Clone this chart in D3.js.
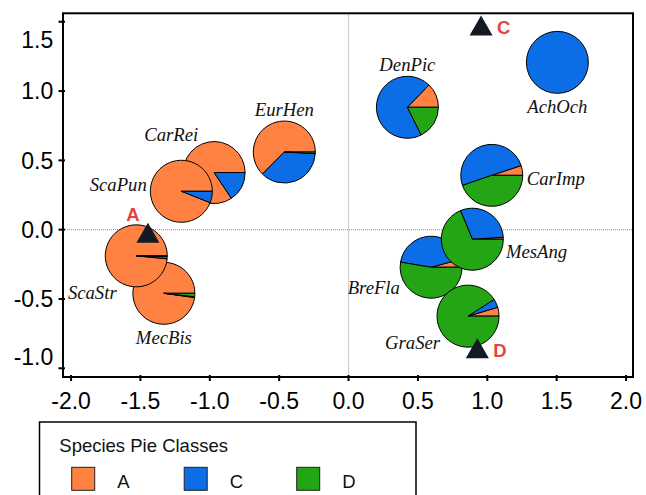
<!DOCTYPE html>
<html>
<head>
<meta charset="utf-8">
<script src="https://cdnjs.cloudflare.com/ajax/libs/d3/7.8.5/d3.min.js"></script>
<style>
	body { margin: 0; background: #fff; }
	svg { display: block; }
</style>
</head>
<body>
<div id="chart"></div>
<script>
// species scores and class proportions (A, C, D) per species
var speciesNames = ["AchOch", "BreFla", "CarImp", "CarRei", "DenPic", "EurHen", "GraSer", "MecBis", "MesAng", "ScaPun", "ScaStr"];
var speciesX = [1.505, 0.595, 1.032, -0.969, 0.424, -0.463, 0.861, -1.331, 0.892, -1.205, -1.530];
var speciesY = [1.207, -0.271, 0.392, 0.412, 0.883, 0.560, -0.624, -0.459, -0.069, 0.277, -0.189];
var shareA = [0, 0.042, 0.051, 0.844, 0.1275, 0.625, 0.046, 0.978, 0.010, 0.940, 0.985];
var shareC = [1, 0.432, 0.502, 0.156, 0.696, 0.367, 0.045, 0.004, 0.302, 0.060, 0.012];
var shareD = [0, 0.526, 0.447, 0, 0.1765, 0.008, 0.909, 0.018, 0.688, 0, 0.003];
// direction (degrees, clockwise from east) where each species name sits
var labelAngle = [90, 153, 3, -117, -90, -90, 143, 90, 16, 189, 124];

// class centroids
var classNames = ["A", "C", "D"];
var classX = [-1.446, 0.955, 0.928];
var classY = [-0.046, 1.449, -0.880];
var classLabelSide = ["nw", "e", "e"];
var classColors = ["#ff8243", "#0b6ee6", "#24a516"];

var xTicks = [-2.0, -1.5, -1.0, -0.5, 0.0, 0.5, 1.0, 1.5, 2.0];
var yTicks = [-1.0, -0.5, 0.0, 0.5, 1.0, 1.5];

var conf = {
	width: 646, height: 495,
	left: 63, top: 13.3, right: 633, bottom: 377,
	radius: 31
};

var $svg = d3.select("#chart").append("svg")
	.attr("width", conf.width)
	.attr("height", conf.height);

$svg.append("rect")
	.attr("width", conf.width)
	.attr("height", conf.height)
	.attr("fill", "#fff");

var x = d3.scaleLinear().domain([-2.058, 2.050]).range([conf.left, conf.right]);
var y = d3.scaleLinear().domain([-1.063, 1.561]).range([conf.bottom, conf.top]);

// dotted zero lines
$svg.append("line")
	.attr("x1", x(0)).attr("x2", x(0))
	.attr("y1", conf.top).attr("y2", conf.bottom)
	.attr("stroke", "#777")
	.attr("stroke-width", 0.8)
	.attr("stroke-dasharray", "1,1");
$svg.append("line")
	.attr("x1", conf.left).attr("x2", conf.right)
	.attr("y1", y(0)).attr("y2", y(0))
	.attr("stroke", "#777")
	.attr("stroke-width", 0.8)
	.attr("stroke-dasharray", "1,1");

var arc = d3.arc()
	.innerRadius(0)
	.outerRadius(conf.radius);

// counter-clockwise from 3 o'clock
var pie = d3.pie()
	.sort(null)
	.value(function(d) { return d.value; })
	.startAngle(Math.PI / 2)
	.endAngle(Math.PI / 2 - 2 * Math.PI);

var speciesData = speciesNames.map(function(name, i) {
	return {
		name: name,
		x: speciesX[i],
		y: speciesY[i],
		angle: labelAngle[i],
		shares: [
			{ cls: 0, value: shareA[i] },
			{ cls: 1, value: shareC[i] },
			{ cls: 2, value: shareD[i] }
		]
	};
});

var $pies = $svg.selectAll("g.pie").data(speciesData)
	.enter()
	.append("g")
	.attr("class", "pie")
	.attr("transform", function(d) { return "translate(" + x(d.x) + "," + y(d.y) + ")"; });

$pies.selectAll("path")
	.data(function(d) { return pie(d.shares).filter(function(s) { return s.data.value > 0; }); })
	.enter()
	.append("path")
	.attr("d", arc)
	.attr("fill", function(s) { return classColors[s.data.cls]; })
	.attr("stroke", "#000")
	.attr("stroke-width", 1)
	.attr("stroke-linejoin", "round");

var labelSize = 18.7;
$svg.selectAll("text.species").data(speciesData)
	.enter()
	.append("text")
	.attr("class", "species")
	.attr("x", function(d) {
		return x(d.x) + (conf.radius + 4) * Math.cos(d.angle * Math.PI / 180);
	})
	.attr("y", function(d) {
		var s = Math.sin(d.angle * Math.PI / 180);
		return y(d.y) + (conf.radius + 4) * s + labelSize * (0.375 + 0.455 * s);
	})
	.attr("text-anchor", function(d) {
		var c = Math.cos(d.angle * Math.PI / 180);
		return c > 0.35 ? "start" : (c < -0.35 ? "end" : "middle");
	})
	.attr("font-family", "'Liberation Serif', 'Times New Roman', serif")
	.attr("font-style", "italic")
	.attr("font-size", labelSize)
	.attr("fill", "#111")
	.text(function(d) { return d.name; });

// class centroids
var classData = classNames.map(function(name, i) {
	return { name: name, x: classX[i], y: classY[i], side: classLabelSide[i] };
});

$svg.selectAll("path.centroid").data(classData)
	.enter()
	.append("path")
	.attr("class", "centroid")
	.attr("d", d3.symbol().type(d3.symbolTriangle).size(230))
	.attr("transform", function(d) { return "translate(" + x(d.x) + "," + y(d.y) + ")"; })
	.attr("fill", "#141a24");

$svg.selectAll("text.centroid").data(classData)
	.enter()
	.append("text")
	.attr("class", "centroid")
	.attr("x", function(d) { return x(d.x) + (d.side === "nw" ? -15 : 16); })
	.attr("y", function(d) { return y(d.y) + (d.side === "nw" ? -15.5 : 5.5); })
	.attr("text-anchor", function(d) { return d.side === "nw" ? "middle" : "start"; })
	.attr("font-family", "'Liberation Sans', Arial, sans-serif")
	.attr("font-weight", "bold")
	.attr("font-size", 18.5)
	.attr("fill", "#e8423f")
	.text(function(d) { return d.name; });

// frame, ticks and tick labels
$svg.append("rect")
	.attr("x", conf.left)
	.attr("y", conf.top)
	.attr("width", conf.right - conf.left)
	.attr("height", conf.bottom - conf.top)
	.attr("fill", "none")
	.attr("stroke", "#000")
	.attr("stroke-width", 2);

$svg.selectAll("line.xtick").data(xTicks)
	.enter()
	.append("line")
	.attr("class", "xtick")
	.attr("x1", function(d) { return x(d); })
	.attr("x2", function(d) { return x(d); })
	.attr("y1", conf.bottom - 2)
	.attr("y2", conf.bottom + 4)
	.attr("stroke", "#000")
	.attr("stroke-width", 2);

$svg.selectAll("line.ytick").data(yTicks)
	.enter()
	.append("line")
	.attr("class", "ytick")
	.attr("x1", conf.left - 4.5)
	.attr("x2", conf.left + 2)
	.attr("y1", function(d) { return y(d); })
	.attr("y2", function(d) { return y(d); })
	.attr("stroke", "#000")
	.attr("stroke-width", 2);

var tickFont = "'Liberation Sans', Arial, Helvetica, sans-serif";
$svg.selectAll("text.xtick").data(xTicks)
	.enter()
	.append("text")
	.attr("class", "xtick")
	.attr("x", function(d) { return x(d); })
	.attr("y", conf.bottom + 32)
	.attr("text-anchor", "middle")
	.attr("font-family", tickFont)
	.attr("font-size", 23)
	.attr("fill", "#000")
	.text(function(d) { return d3.format(".1f")(d).replace("−", "-"); });

$svg.selectAll("text.ytick").data(yTicks)
	.enter()
	.append("text")
	.attr("class", "ytick")
	.attr("x", conf.left - 9.7)
	.attr("y", function(d) {
		// end labels are kept inside the frame height
		var c = Math.max(conf.top + 26, Math.min(conf.bottom - 20, y(d)));
		return c + 8.3;
	})
	.attr("text-anchor", "end")
	.attr("font-family", tickFont)
	.attr("font-size", 23)
	.attr("fill", "#000")
	.text(function(d) { return d3.format(".1f")(d).replace("−", "-"); });

// legend
var $legend = $svg.append("g").attr("class", "legend");
$legend.append("rect")
	.attr("x", 39.5)
	.attr("y", 422)
	.attr("width", 376.5)
	.attr("height", 110)
	.attr("fill", "#fff")
	.attr("stroke", "#000")
	.attr("stroke-width", 1.5);
$legend.append("text")
	.attr("x", 59.3)
	.attr("y", 451.5)
	.attr("font-family", tickFont)
	.attr("font-size", 18.5)
	.attr("fill", "#111")
	.text("Species Pie Classes");

var $items = $legend.selectAll("g.item").data(classNames)
	.enter()
	.append("g")
	.attr("class", "item")
	.attr("transform", function(d, i) { return "translate(" + (71.7 + i * 112.5) + ",467.3)"; });
$items.append("rect")
	.attr("width", 23)
	.attr("height", 23)
	.attr("fill", function(d, i) { return classColors[i]; })
	.attr("stroke", "#222")
	.attr("stroke-width", 1);
$items.append("text")
	.attr("x", 45.5)
	.attr("y", 20.7)
	.attr("font-family", tickFont)
	.attr("font-size", 18.5)
	.attr("fill", "#111")
	.text(function(d) { return d; });
</script>
</body>
</html>
